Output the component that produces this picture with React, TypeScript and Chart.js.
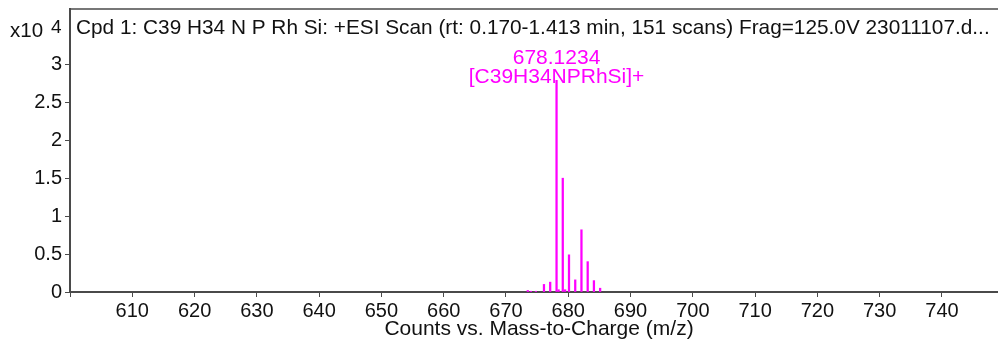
import React, { useEffect, useRef } from "react";
import { Chart, registerables } from "chart.js";

Chart.register(...registerables);

// ---- data (counts in units of x10^4) ----
const mzValues = [673.5, 674.0, 674.8, 676.1, 677.1, 678.12, 678.45, 679.12, 679.5, 680.12, 681.12, 682.12, 683.12, 684.12, 685.12];
const counts = [0.02, 0.01, 0.01, 0.10, 0.13, 2.79, 0.03, 1.50, 0.03, 0.49, 0.16, 0.82, 0.40, 0.15, 0.05];
const xTickValues = [600, 610, 620, 630, 640, 650, 660, 670, 680, 690, 700, 710, 720, 730, 740];
const yTickValues = [0, 0.5, 1, 1.5, 2, 2.5, 3];
const titleText = "Cpd 1: C39 H34 N P Rh Si: +ESI Scan (rt: 0.170-1.413 min, 151 scans) Frag=125.0V 23011107.d...";
const peakLabels = ["678.1234", "[C39H34NPRhSi]+"];
const peakIndex = 5;
const xAxisTitle = "Counts vs. Mass-to-Charge (m/z)";
const yExponentBase = "x10";
const yExponent = "4";

const FONT = "'Liberation Sans', Arial, sans-serif";
const AXIS_COLOR = "#4a4a4a";
const PEAK_COLOR = "#ff00ff";

const overlayPlugin = {
  id: "overlay",
  afterDraw(chart: any) {
    const { ctx, chartArea, scales } = chart;
    ctx.save();
    // top frame line
    ctx.strokeStyle = AXIS_COLOR;
    ctx.lineWidth = 1.5;
    ctx.beginPath();
    ctx.moveTo(chartArea.left, chartArea.top);
    ctx.lineTo(chartArea.right, chartArea.top);
    ctx.stroke();

    // title
    ctx.fillStyle = "#111";
    ctx.font = `20.8px ${FONT}`;
    ctx.textBaseline = "alphabetic";
    ctx.textAlign = "left";
    ctx.fillText(titleText, chartArea.left + 6, 34);

    // exponent label
    ctx.font = `20.5px ${FONT}`;
    ctx.fillText(yExponentBase, 10, 37);
    ctx.font = `19px ${FONT}`;
    ctx.fillText(yExponent, 51, 33);

    // x axis title
    ctx.textAlign = "center";
    ctx.font = `21px ${FONT}`;
    ctx.fillText(xAxisTitle, 539, 335);

    // peak annotation
    const px = scales.x.getPixelForValue(mzValues[peakIndex]);
    ctx.fillStyle = PEAK_COLOR;
    ctx.font = `21px ${FONT}`;
    ctx.fillText(peakLabels[0], px, 64);
    ctx.fillText(peakLabels[1], px, 83);
    ctx.restore();
  },
};

export default function App() {
  const ref = useRef<HTMLCanvasElement | null>(null);
  useEffect(() => {
    document.body.style.margin = "0";
    const canvas = ref.current!;
    const chart = new Chart(canvas, {
      type: "bar",
      data: {
        datasets: [
          {
            data: mzValues.map((x, i) => ({ x, y: counts[i] })),
            backgroundColor: PEAK_COLOR,
            borderWidth: 0,
            barThickness: 1.6,
          } as any,
        ],
      },
      options: {
        responsive: false,
        animation: false,
        devicePixelRatio: 1,
        layout: { padding: { top: 9, left: 0, right: 0, bottom: 0 } },
        plugins: { legend: { display: false }, tooltip: { enabled: false }, title: { display: false } },
        scales: {
          x: {
            type: "linear",
            min: 600,
            max: 749,
            offset: false,
            afterBuildTicks: (s: any) => {
              s.ticks = xTickValues.map((v) => ({ value: v }));
            },
            afterFit: (s: any) => {
              s.height = 48;
              s.paddingLeft = 0;
              s.paddingRight = 0;
            },
            ticks: {
              autoSkip: false,
              maxRotation: 0,
              padding: 2,
              color: "#111",
              font: { family: FONT, size: 20 },
              callback: (v: any) => (v === 600 ? "" : String(v)),
            },
            grid: { display: true, drawOnChartArea: false, drawTicks: true, tickLength: 5, color: AXIS_COLOR, offset: false },
            border: { display: true, color: AXIS_COLOR, width: 2 },
            title: { display: false },
          },
          y: {
            type: "linear",
            min: 0,
            max: 3.73,
            afterBuildTicks: (s: any) => {
              s.ticks = yTickValues.map((v) => ({ value: v }));
            },
            afterFit: (s: any) => {
              s.width = 70;
              s.paddingTop = 0;
              s.paddingBottom = 0;
            },
            ticks: {
              padding: 3,
              color: "#111",
              font: { family: FONT, size: 20 },
              callback: (v: any) => String(v),
            },
            grid: { display: true, drawOnChartArea: false, drawTicks: true, tickLength: 5, color: AXIS_COLOR },
            border: { display: true, color: AXIS_COLOR, width: 2 },
          },
        },
      },
      plugins: [overlayPlugin],
    });
    return () => chart.destroy();
  }, []);
  return <canvas ref={ref} width={998} height={340} style={{ display: "block" }} />;
}
